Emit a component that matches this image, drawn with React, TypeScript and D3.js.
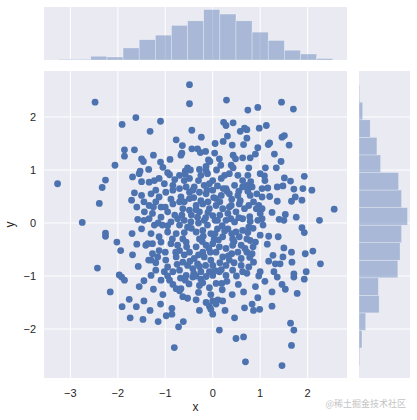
import React from 'react';
import * as d3 from 'd3';

// scatter values (x, y)
const points: [number, number][] = [
  [-2.48,2.28],[-1.62,1.99],[-1.91,1.86],[-1.86,1.38],[-1.65,1.38],[-1.86,1.26],[-1.50,1.21],[-1.46,1.16],[-2.06,1.09],[-1.53,0.98],
  [-0.49,2.61],[-0.49,2.25],[0.29,2.32],[0.74,2.13],[-1.10,1.92],[-1.32,1.73],[0.23,1.90],[0.28,1.84],[0.43,1.89],[0.67,1.79],
  [0.58,1.73],[-0.44,1.75],[-0.24,1.62],[-0.77,1.57],[-0.64,1.46],[0.31,1.64],[0.22,1.54],[0.41,1.47],[0.65,1.48],[-0.44,1.40],
  [-0.32,1.40],[-0.26,1.33],[-0.65,1.32],[-0.67,1.28],[-1.25,1.28],[-1.10,1.15],[0.04,1.32],[0.14,1.21],[0.43,1.28],[0.48,1.21],
  [0.63,1.23],[-0.09,1.19],[-0.14,1.07],[-0.06,1.16],[0.17,1.09],[0.39,1.09],[0.43,1.04],[-0.53,1.04],[-1.05,1.05],[-1.35,1.01],
  [-0.28,1.01],[-0.58,0.98],[-0.47,1.00],[-0.14,0.99],[0.08,1.00],
  [1.45,2.28],[1.70,2.15],[0.95,2.18],[1.13,1.84],[0.98,1.79],[0.72,1.76],[0.72,1.60],[0.95,1.42],[1.20,1.51],[1.17,1.48],
  [1.46,1.62],[1.51,1.65],[1.61,1.47],[0.79,1.23],[1.44,1.16],[0.76,1.04],[1.11,1.04],[1.34,1.04],
  [-3.27,0.74],[-2.26,0.81],[-2.33,0.67],[-2.39,0.37],[-2.75,0.01],[-2.26,-0.19],[-2.26,-0.25],[-2.02,-0.36],[-1.94,-0.52],[-1.69,-0.60],
  [-1.57,-0.82],[-2.43,-0.85],[-1.97,-0.98],[-1.69,0.87],[-1.55,0.93],[-1.50,0.78],[-1.65,0.57],[-1.50,0.52],[-1.71,0.43],[-1.45,0.40],
  [-1.44,0.21],[-1.58,0.07],[-1.45,0.05],[-1.50,-0.11],[-1.41,-0.42],
  [-1.92,-1.02],[-1.86,-1.08],[-2.16,-1.30],[-1.76,-1.44],[-1.91,-1.58],[-1.61,-1.58],[-1.45,-1.47],[-1.45,-1.09],[-1.74,-1.79],[-1.47,-1.82],
  [-1.09,-1.08],[-0.91,-1.08],[-0.68,-1.04],[-0.58,-1.08],[-0.42,-1.02],[-0.25,-1.06],[-0.84,-1.16],[-0.77,-1.24],[-0.70,-1.28],[-0.67,-1.24],
  [-0.28,-1.18],[-0.21,-1.13],[-0.07,-1.22],[0.07,-1.14],[0.19,-1.14],[0.20,-1.26],[0.54,-1.16],[-1.32,-1.65],[-1.10,-1.53],[-0.63,-1.39],
  [-0.53,-1.42],[-0.30,-1.31],[-0.35,-1.45],[-0.04,-1.35],[-0.14,-1.50],[-0.07,-1.57],[0.00,-1.47],[0.07,-1.53],[-0.04,-1.63],[0.11,-1.45],
  [0.21,-1.47],[-0.28,-1.65],[0.00,-1.72],[0.26,-1.65],[0.41,-1.35],[0.46,-1.79],[0.67,-1.60],[-0.86,-1.61],[-0.98,-1.75],[-0.86,-1.72],
  [-1.15,-1.86],[-0.62,-1.86],[-0.72,-1.96],[0.14,-2.02],[-0.81,-2.35],[0.49,-2.18],[0.65,-2.15],[0.69,-2.62],
  [-0.35,-1.00],[-0.14,-1.01],[0.00,-0.99],
  [0.97,-1.00],[1.36,-1.02],[1.71,-1.02],[1.93,-1.06],[1.46,-1.16],[1.53,-1.25],[1.25,-1.30],[1.78,-1.33],[0.95,-1.41],[0.83,-1.53],
  [0.86,-1.65],[0.99,-1.63],[1.25,-1.57],[1.64,-1.89],[1.71,-2.02],[1.66,-2.31],[1.46,-2.69],
  [1.00,0.93],[1.09,0.89],[1.51,0.85],[1.64,0.79],[1.93,0.88],[0.72,0.71],[0.83,0.68],[1.04,0.65],[1.16,0.66],[1.36,0.68],
  [1.48,0.70],[1.71,0.64],[1.90,0.65],[2.09,0.62],[1.74,0.49],[1.88,0.43],[1.66,0.41],[1.36,0.41],[0.79,0.52],[0.93,0.55],
  [1.04,0.49],[0.86,0.40],[0.76,0.33],[0.97,0.33],[0.92,0.27],[1.04,0.27],[1.00,0.18],[2.56,0.26],[2.25,0.05],[1.76,0.11],
  [1.53,0.16],[1.40,0.07],[1.50,0.05],[1.04,0.08],[1.06,-0.04],[0.79,0.03],[0.76,-0.08],[1.88,-0.09],[1.93,-0.18],[1.00,-0.23],
  [1.18,-0.25],[1.38,-0.26],[0.79,-0.33],[0.90,-0.36],[0.85,-0.45],[0.72,-0.55],[0.83,-0.58],[1.50,-0.47],[1.66,-0.55],[1.95,-0.58],
  [2.11,-0.53],[1.48,-0.64],[1.27,-0.61],[1.18,-0.72],[1.32,-0.77],[1.42,-0.77],[1.67,-0.74],[2.27,-0.77],[0.86,-0.74],[0.76,-0.83],
  [1.00,-0.92],[1.29,-0.92],[1.71,-0.96],[1.97,-0.92],
  [0.74,0.90],[0.80,0.78],[0.74,0.60],[0.78,0.12],[0.72,-0.30],[0.74,-0.18],[0.78,-0.65],[0.72,-0.95],
  [-1.23,0.80],[-1.13,0.84],[-0.91,0.91],[-0.70,0.90],[-0.49,0.84],[-0.25,0.90],[-0.11,0.93],[0.00,0.80],[0.18,0.84],[0.35,0.93],
  [0.53,0.90],[0.63,0.80],[-0.18,0.71],[-0.07,0.74],[-0.39,0.68],[-0.56,0.68],[-1.02,0.74],[-0.84,0.71],[-1.34,0.77],
  [-0.99,0.58],[-0.84,0.62],[-0.70,0.65],[-0.49,0.58],[-0.28,0.58],[-0.14,0.55],[0.00,0.62],[0.18,0.52],[0.28,0.65],[0.46,0.71],
  [0.63,0.68],[0.53,0.52],[0.35,0.55],[0.07,0.46],[-0.67,0.49],[-0.49,0.46],[-1.13,0.49],[-1.30,0.55],
  [-1.34,0.33],[-1.20,0.40],[-1.09,0.30],[-0.84,0.36],[-0.70,0.40],[-0.63,0.27],[-0.35,0.33],[-0.21,0.36],[-0.07,0.27],[0.07,0.33],
  [0.21,0.27],[0.39,0.33],[0.56,0.36],[0.32,0.18],[0.49,0.21],[0.67,0.27],[-0.28,0.21],[-0.49,0.24],[-0.95,0.21],[-1.27,0.18],
  [-1.34,0.08],[-1.09,0.11],[-0.88,0.02],[-0.74,0.08],[-0.60,0.05],[-0.46,0.02],[-0.32,0.11],[-0.18,0.05],[0.00,0.14],[0.10,0.05],
  [0.28,0.05],[0.46,0.02],[0.63,0.08],[-0.11,-0.04],[-1.06,-0.04],[-1.23,-0.04],[-0.53,-0.08],[-0.70,-0.04],
  [-1.30,-0.20],[-1.13,-0.26],[-0.95,-0.17],[-0.77,-0.20],[-0.35,-0.17],[-0.21,-0.14],[-0.04,-0.20],[0.10,-0.11],[0.32,-0.11],[0.49,-0.17],
  [0.63,-0.14],[0.03,-0.30],[0.21,-0.26],[0.42,-0.30],[0.56,-0.26],[-0.63,-0.30],[-0.28,-0.30],[-1.37,-0.39],
  [-1.27,-0.39],[-1.09,-0.36],[-0.88,-0.39],[-0.74,-0.42],[-0.56,-0.36],[-0.35,-0.45],[-0.14,-0.42],[0.00,-0.39],[0.14,-0.45],[0.28,-0.48],
  [0.42,-0.42],[0.60,-0.42],[-1.13,-0.52],[-0.70,-0.52],[-0.49,-0.55],[-0.21,-0.55],[0.07,-0.55],[0.53,-0.55],
  [-1.30,-0.70],[-1.16,-0.64],[-0.99,-0.70],[-0.77,-0.64],[-0.63,-0.74],[-0.39,-0.67],[-0.18,-0.64],[-0.04,-0.70],[0.21,-0.64],[0.35,-0.70],
  [0.60,-0.67],[-1.27,-0.58],[0.00,-0.80],[0.28,-0.80],[-0.53,-0.80],[-0.32,-0.77],[-0.95,-0.83],
  [-1.20,-0.89],[-1.02,-0.92],[-0.84,-0.92],[-0.70,-0.89],[-0.42,-0.86],[-0.25,-0.92],[-0.07,-0.92],[0.14,-0.92],[0.42,-0.89],[0.63,-0.92],
  [-1.30,-0.99],[-0.56,-0.99],[0.28,-0.99],
  [-1.00,0.30],[-0.80,0.15],[-0.60,0.40],[-0.40,0.48],[-0.25,0.42],[-0.10,0.40],[0.15,0.40],[0.40,0.45],[0.55,0.60],[-0.30,0.80],
  [-0.60,0.80],[0.10,0.70],[0.25,0.90],[-0.80,0.82],[-1.20,0.62],[-1.25,0.30],[-1.15,0.00],[-0.95,-0.05],[-0.45,-0.10],[-0.20,-0.25],
  [0.20,-0.05],[0.40,-0.20],[0.55,0.10],[-0.10,0.20],[0.15,0.15],[-0.30,0.00],[-0.60,-0.18],[-0.85,-0.30],[-1.00,-0.55],[-0.60,-0.60],
  [-0.30,-0.60],[-0.05,-0.55],[0.40,-0.58],[0.60,-0.80],[0.15,-0.75],[-0.15,-0.80],[-0.75,-0.78],[-0.40,-0.95],[0.05,-0.90],[0.50,-1.00],
  [-1.20,-0.75],[-0.95,-1.00],[0.30,-1.10],[-0.50,-1.15],[0.65,-1.30],[0.90,-1.20],[1.10,-1.10],[1.15,-0.40],[1.25,0.20],[1.20,0.50],
  [1.10,0.80],[1.30,1.30],[0.90,1.30],[0.05,1.50],[-0.15,1.35],[-0.90,1.20],[-0.95,0.95],[-1.60,0.30],[-1.70,-0.20],[-1.60,-0.40],
  [-1.25,-1.25],[-1.05,-1.35],[0.30,0.60],[-0.45,0.15],[0.45,-0.35],[0.85,-0.10],[0.95,0.05],[-1.35,-0.70],[-1.55,-1.20],[0.05,-0.20],
  [-0.15,0.10],[0.05,0.05],[0.25,-0.15],[-0.35,0.25],[0.12,-0.32],[-0.55,-0.45],[0.35,0.30],[-0.08,-0.48],[0.22,0.65],[-0.42,0.62],
  [0.45,-0.75],[-0.65,0.15],[-0.22,-0.35],[0.33,-0.62],[0.02,0.48],[-0.78,-0.55],[0.58,0.42],[-0.12,0.62],[0.18,-0.88],[-0.48,-0.72],
  [0.38,0.08],[-0.88,0.45],[-0.28,-0.82],[0.68,-0.48],[-0.58,0.92],
];

const xTicks = [-3, -2, -1, 0, 1, 2];
const yTicks = [-2, -1, 0, 1, 2];

// marginal histogram counts
const xHistStart = -3.25;
const xHistBinWidth = 0.34;
const xHistCounts = [1, 1, 5, 4, 16, 27, 33, 46, 52, 67, 61, 52, 37, 26, 13, 8, 2];
const yHistStart = -2.69;
const yHistBinWidth = 0.33125;
const yHistCounts = [1, 4, 9, 27, 26, 52, 55, 57, 65, 57, 53, 29, 24, 15, 5, 1];

const BG = '#EAEAF2';
const BLUE = '#4C72B0';
const TEXT = '#262626';
const FONT = '"Liberation Sans", Arial, sans-serif';

export default function App() {
  const main = { left: 44, right: 347, top: 71, bottom: 378 };
  const top = { top: 7, bottom: 60 };
  const side = { left: 359, right: 410 };

  const x = d3.scaleLinear().domain([-3.556, 2.83]).range([main.left, main.right]);
  const y = d3.scaleLinear().domain([-2.925, 2.868]).range([main.bottom, main.top]);
  const hx = d3.scaleLinear().domain([0, (d3.max(xHistCounts) as number) * 1.05]).range([top.bottom, top.top]);
  const hy = d3.scaleLinear().domain([0, (d3.max(yHistCounts) as number) * 1.05]).range([side.left, side.right]);

  const minus = (v: number) => (v < 0 ? '\u2212' + Math.abs(v) : String(v));

  return (
    <svg width={417} height={420} style={{ position: 'absolute', left: 0, top: 0, background: '#fff' }}>
      <defs>
        <clipPath id="mainClip">
          <rect x={main.left} y={main.top} width={main.right - main.left} height={main.bottom - main.top} />
        </clipPath>
      </defs>
      {/* main panel */}
      <rect x={main.left} y={main.top} width={main.right - main.left} height={main.bottom - main.top} fill={BG} />
      {xTicks.map((t) => (
        <line key={'gx' + t} x1={x(t)} x2={x(t)} y1={main.top} y2={main.bottom} stroke="#fff" strokeWidth={1} />
      ))}
      {yTicks.map((t) => (
        <line key={'gy' + t} x1={main.left} x2={main.right} y1={y(t)} y2={y(t)} stroke="#fff" strokeWidth={1} />
      ))}
      <g clipPath="url(#mainClip)">
        {points.map((p, i) => (
          <circle key={i} cx={x(p[0])} cy={y(p[1])} r={3.4} fill={BLUE} />
        ))}
      </g>

      {/* top marginal */}
      <rect x={main.left} y={top.top} width={main.right - main.left} height={top.bottom - top.top} fill={BG} />
      {xTicks.map((t) => (
        <line key={'tx' + t} x1={x(t)} x2={x(t)} y1={top.top} y2={top.bottom} stroke="#fff" strokeWidth={1} />
      ))}
      {xHistCounts.map((c, i) => {
        const x0 = x(xHistStart + i * xHistBinWidth);
        const x1 = x(xHistStart + (i + 1) * xHistBinWidth);
        return (
          <rect key={'hx' + i} x={x0} width={x1 - x0} y={hx(c)} height={top.bottom - hx(c)}
            fill={BLUE} fillOpacity={0.42} stroke="#fff" strokeOpacity={0.5} strokeWidth={0.6} />
        );
      })}

      {/* right marginal */}
      <rect x={side.left} y={main.top} width={side.right - side.left} height={main.bottom - main.top} fill={BG} />
      {yTicks.map((t) => (
        <line key={'ty' + t} x1={side.left} x2={side.right} y1={y(t)} y2={y(t)} stroke="#fff" strokeWidth={1} />
      ))}
      {yHistCounts.map((c, i) => {
        const y0 = y(yHistStart + i * yHistBinWidth);
        const y1 = y(yHistStart + (i + 1) * yHistBinWidth);
        return (
          <rect key={'hy' + i} x={side.left} width={hy(c) - side.left} y={y1} height={y0 - y1}
            fill={BLUE} fillOpacity={0.42} stroke="#fff" strokeOpacity={0.5} strokeWidth={0.6} />
        );
      })}

      {/* tick labels */}
      {xTicks.map((t) => (
        <text key={'lx' + t} x={x(t)} y={397} textAnchor="middle" fontFamily={FONT} fontSize={11} fill={TEXT}>
          {minus(t)}
        </text>
      ))}
      {yTicks.map((t) => (
        <text key={'ly' + t} x={36} y={y(t)} dy="0.35em" textAnchor="end" fontFamily={FONT} fontSize={11} fill={TEXT}>
          {minus(t)}
        </text>
      ))}
      <text x={(main.left + main.right) / 2} y={411} textAnchor="middle" fontFamily={FONT} fontSize={12} fill={TEXT}>x</text>
      <text transform={`translate(14,${(main.top + main.bottom) / 2}) rotate(-90)`} textAnchor="middle" fontFamily={FONT} fontSize={12} fill={TEXT}>y</text>

      <text x={406} y={407} textAnchor="end" fontFamily='"Noto Sans CJK SC", sans-serif' fontSize={9} fill="#c4c4c4">@稀土掘金技术社区</text>
    </svg>
  );
}
